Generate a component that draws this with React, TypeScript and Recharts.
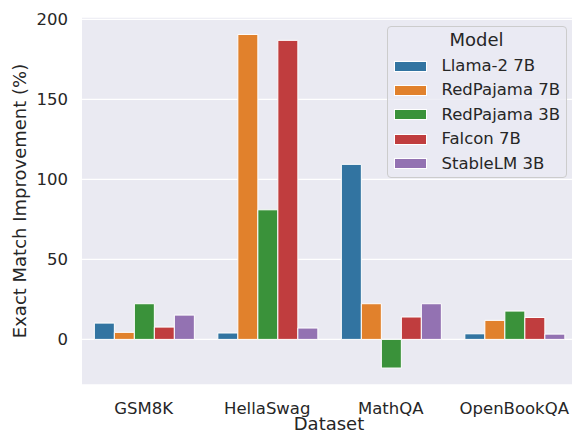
import React from "react";
import {
  BarChart,
  Bar,
  XAxis,
  YAxis,
  CartesianGrid,
  Label,
} from "recharts";

const datasets = ["GSM8K", "HellaSwag", "MathQA", "OpenBookQA"];
const models = ["Llama-2 7B", "RedPajama 7B", "RedPajama 3B", "Falcon 7B", "StableLM 3B"];
const colors = ["#3274A1", "#E1812C", "#3A923A", "#C03D3E", "#9372B2"];

// one array per model, in dataset order
const llama2_7b = [10.2, 4.0, 109.4, 3.5];
const redpajama_7b = [4.4, 190.6, 22.3, 11.9];
const redpajama_3b = [22.3, 81.0, -17.9, 17.7];
const falcon_7b = [7.7, 186.9, 14.0, 13.7];
const stablelm_3b = [15.2, 7.1, 22.3, 3.3];

const yTicks = [0, 50, 100, 150, 200];

const seriesValues = [llama2_7b, redpajama_7b, redpajama_3b, falcon_7b, stablelm_3b];

const data = datasets.map((name, i) => {
  const row: Record<string, string | number> = { dataset: name };
  models.forEach((m, j) => {
    row[m] = seriesValues[j][i];
  });
  return row;
});

const FONT = "'DejaVu Sans', sans-serif";
const TEXT = "#262626";

function YLabel() {
  return (
    <text
      x={26}
      y={201}
      transform="rotate(-90, 26, 201)"
      textAnchor="middle"
      fill={TEXT}
      fontSize={18}
      fontFamily={FONT}
    >
      Exact Match Improvement (%)
    </text>
  );
}

function ModelLegend() {
  return (
    <div
      style={{
        position: "absolute",
        left: 386.5,
        top: 25.5,
        width: 180,
        height: 152,
        boxSizing: "border-box",
        background: "rgba(234,234,242,0.8)",
        border: "1px solid #cccccc",
        borderRadius: 4,
        fontFamily: FONT,
        color: TEXT,
      }}
    >
      <div
        style={{
          position: "absolute",
          left: 0,
          right: 0,
          top: 13.5,
          transform: "translateY(-50%)",
          textAlign: "center",
          fontSize: 18,
          lineHeight: "20px",
        }}
      >
        Model
      </div>
      {models.map((m, i) => (
        <div
          key={m}
          style={{
            position: "absolute",
            left: 6.5,
            top: 39.5 + i * 24.4,
            transform: "translateY(-50%)",
            display: "flex",
            alignItems: "center",
            whiteSpace: "nowrap",
          }}
        >
          <div style={{ width: 33, height: 11, background: colors[i], border: "0.5px solid #fff", boxSizing: "border-box" }} />
          <span style={{ marginLeft: 14.5, fontSize: 16.5, lineHeight: "20px" }}>{m}</span>
        </div>
      ))}
    </div>
  );
}

export default function App() {
  return (
    <div
      style={{
        position: "fixed",
        left: 0,
        top: 0,
        width: 572,
        height: 434,
        overflow: "hidden",
        background: "#ffffff",
      }}
    >
      <BarChart
        width={580}
        height={434}
        data={data}
        margin={{ top: 17, right: 4, bottom: 0, left: 0 }}
        barCategoryGap="10%"
        barGap={0}
      >
        <CartesianGrid
          vertical={false}
          fill="#EAEAF2"
          fillOpacity={1}
          stroke="#ffffff"
          strokeWidth={1.4}
        />
        <XAxis
          dataKey="dataset"
          interval={0}
          tickLine={false}
          axisLine={false}
          tickSize={0}
          tickMargin={17}
          height={49}
          tick={{ fill: TEXT, fontSize: 16.5, fontFamily: FONT }}
        >
          <Label
            value="Dataset"
            position="insideBottom"
            offset={4}
            fill={TEXT}
            fontSize={18}
            fontFamily={FONT}
          />
        </XAxis>
        <YAxis
          type="number"
          domain={[-28.5, 201.5]}
          ticks={yTicks}
          allowDataOverflow
          width={82}
          tickLine={false}
          axisLine={false}
          tickSize={0}
          tickMargin={14}
          tick={{ fill: TEXT, fontSize: 16.5, fontFamily: FONT }}
        >
          <Label content={<YLabel />} />
        </YAxis>
        {models.map((m, i) => (
          <Bar
            key={m}
            dataKey={m}
            fill={colors[i]}
            stroke="#ffffff"
            strokeWidth={1}
            isAnimationActive={false}
          />
        ))}
      </BarChart>
      <ModelLegend />
    </div>
  );
}
